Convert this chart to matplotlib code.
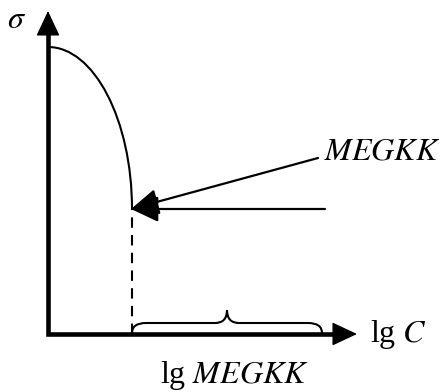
import numpy as np
import matplotlib.pyplot as plt
from matplotlib.path import Path
from matplotlib.patches import PathPatch

plt.rcParams['font.family'] = ['Liberation Serif', 'DejaVu Serif']
plt.rcParams['mathtext.fontset'] = 'stix'

# curve sigma(lg C) as a cubic bezier: start, two control points, end
# (origin = axis corner)
curve_x = [0, 46, 84, 84]
curve_y = [287, 287, 214, 125]

cmc_x = 84          # lg MEGKK
cmc_y = 125         # sigma at the break
x_max = 309         # end of x axis arrow
y_max = 323         # end of y axis arrow
brace_end = 274     # right end of brace
label_start = (270, 176)   # where the MEGKK arrow starts
hline_start = 277          # where the horizontal arrow starts

fig = plt.figure(figsize=(4.43, 3.92), dpi=100)
ax = fig.add_axes([0, 0, 1, 1])
ax.set_xlim(-48, 395)
ax.set_ylim(-58, 334)
ax.axis('off')

# axes
ax.plot([0, 0, x_max - 20], [y_max - 20, 0, 0], color='k', lw=3.3,
        solid_joinstyle='miter', solid_capstyle='butt')
head = dict(arrowstyle='-|>,head_length=1.6,head_width=0.75', color='k',
            lw=1, mutation_scale=10, shrinkA=0, shrinkB=0)
ax.annotate('', xy=(0, y_max), xytext=(0, y_max - 30), arrowprops=head)
ax.annotate('', xy=(x_max, 0), xytext=(x_max - 30, 0), arrowprops=head)

# curve
curve = Path(list(zip(curve_x, curve_y)),
             [Path.MOVETO, Path.CURVE4, Path.CURVE4, Path.CURVE4])
ax.add_patch(PathPatch(curve, fc='none', ec='k', lw=1.5))

# dashed line down to axis
ax.plot([cmc_x, cmc_x], [0, cmc_y], color='k', lw=1.5, dashes=(5, 3.5))

# two arrows pointing at the break
arr = dict(arrowstyle='-|>,head_length=1.7,head_width=0.8', color='k',
           lw=1.6, mutation_scale=10, shrinkA=0, shrinkB=0)
ax.annotate('', xy=(cmc_x - 1, cmc_y), xytext=(hline_start, cmc_y), arrowprops=arr)
ax.annotate('', xy=(cmc_x - 1, cmc_y), xytext=label_start, arrowprops=arr)

# curly brace
mid = (cmc_x + brace_end) / 2
top = 11
tip = 24
verts = [(cmc_x, 1), (cmc_x, top), (cmc_x + 14, top),
         (mid - 12, top),
         (mid, top), (mid, tip),
         (mid, top), (mid + 12, top),
         (brace_end - 14, top),
         (brace_end, top), (brace_end, 1)]
codes = [Path.MOVETO, Path.CURVE3, Path.CURVE3,
         Path.LINETO,
         Path.CURVE3, Path.CURVE3,
         Path.CURVE3, Path.CURVE3,
         Path.LINETO,
         Path.CURVE3, Path.CURVE3]
ax.add_patch(PathPatch(Path(verts, codes), fc='none', ec='k', lw=1.5))

# labels
fs = 23
ax.text(-41, 306, r'$\sigma$', fontsize=fs, ha='left', va='baseline')
ax.text(392, 175, r'$MEGKK$', fontsize=fs, ha='right', va='baseline')
ax.text(322, -8, r'lg $C$', fontsize=fs, ha='left', va='baseline')
ax.text(186, -49, r'lg $MEGKK$', fontsize=fs, ha='center', va='baseline')

plt.savefig('out.png', dpi=100)
